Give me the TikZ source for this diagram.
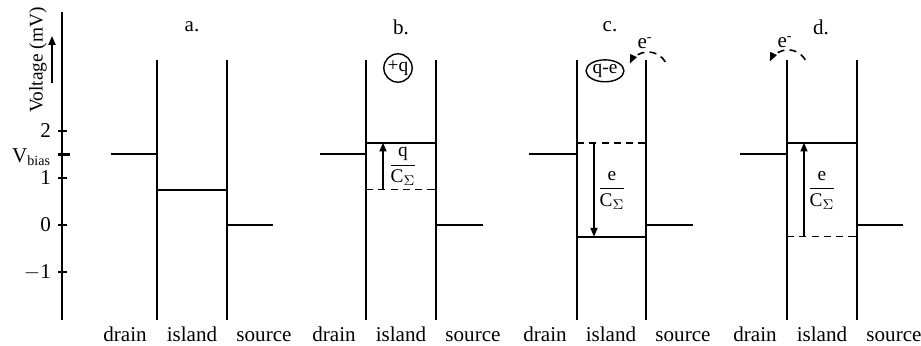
\documentclass[tikz,border=0pt]{standalone}
\usepackage{amsmath}
\usepackage{fontspec}
\setmainfont{Liberation Serif}
\usetikzlibrary{arrows.meta, shapes.geometric}

\begin{document}
\begin{tikzpicture}[
    x=0.02cm, y=0.94cm,
    >={Triangle[length=5pt, width=4pt]},
    font=\fontsize{12}{14}\selectfont,
    barrier/.style={line width=0.9pt},
    level/.style={line width=1.1pt},
    oldlevel/.style={line width=0.9pt, dash pattern=on 4pt off 3pt},
    axtick/.style={line width=0.9pt},
    region/.style={text height=1.6ex, text depth=0.3ex},
    frac/.style={font=\fontsize{11}{12}\selectfont, inner sep=1pt},
    charge/.style={draw, line width=0.8pt, inner sep=0.6pt, font=\fontsize{11}{12}\selectfont},
    hop/.style={line width=0.9pt, dash pattern=on 4pt off 3pt, ->}
]
\useasboundingbox (0,-2.574) rectangle (921,4.787);

% voltage axis
\coordinate (ax0) at (62,-2.02);
\coordinate (ax1) at (62,4.53);
\draw[line width=0.9pt] (ax0) -- (ax1);
\draw[axtick] (58,2) -- (67,2);
\draw[axtick, line width=1.4pt] (58,1.5) -- (70,1.5);
\draw[axtick] (58,1) -- (67,1);
\draw[axtick] (58,0) -- (67,0);
\draw[axtick] (58,-1) -- (67,-1);
\node[anchor=east] (t2) at (57,2) {2};
\node[anchor=east] (t1) at (57,1) {1};
\node[anchor=east] (t0) at (57,0) {0};
\node[anchor=east] (tm1) at (57,-1) {$-$1};
\node[anchor=east, inner sep=1pt] (vbias) at (53,1.45) {V\textsubscript{bias}};
\node[rotate=90, font=\fontsize{11}{12}\selectfont] (vlab) at (38,3.51) {Voltage (mV)};
\coordinate (va0) at (52,3.02);
\coordinate (va1) at (52,4.02);
\draw[->, line width=0.9pt] (va0) -- (va1);

% panel a
\node (pa) at (192,4.21) {a.};
\draw[barrier] (157,-2.02) -- (157,3.51);
\draw[barrier] (227,-2.02) -- (227,3.51);
\draw[level] (111,1.5) -- (157,1.5);
\draw[level] (157,0.75) -- (227,0.75);
\draw[level] (227,0) -- (273,0);
\node[region] (da) at (125,-2.36) {drain};
\node[region] (ia) at (192,-2.36) {island};
\node[region] (sa) at (264,-2.36) {source};

% panel b
\node (pb) at (401,4.21) {b.};
\draw[barrier] (366,-2.02) -- (366,3.51);
\draw[barrier] (436,-2.02) -- (436,3.51);
\draw[level] (320,1.5) -- (366,1.5);
\draw[level] (366,1.75) -- (436,1.75);
\draw[oldlevel] (366,0.75) -- (436,0.75);
\draw[level] (436,0) -- (483,0);
\node[circle, charge] (qb) at (398,3.34) {+q};
\coordinate (b0) at (383,0.75);
\coordinate (b1) at (383,1.75);
\draw[->, line width=0.9pt] (b0) -- (b1);
\node[frac] (fb) at (403,1.24) {$\dfrac{\mathrm{q}}{\mathrm{C}_{\Sigma}}$};
\node[region] (db) at (334,-2.36) {drain};
\node[region] (ib) at (401,-2.36) {island};
\node[region] (sb) at (473,-2.36) {source};

% panel c
\node (pc) at (610,4.21) {c.};
\draw[barrier] (577,-2.02) -- (577,3.51);
\draw[barrier] (646,-2.02) -- (646,3.51);
\draw[level] (529,1.5) -- (577,1.5);
\draw[oldlevel] (577,1.75) -- (646,1.75);
\draw[level] (577,-0.25) -- (646,-0.25);
\draw[level] (646,0) -- (693,0);
\node[ellipse, charge] (qc) at (605,3.28) {q-e};
\coordinate (c0) at (594,1.75);
\coordinate (c1) at (594,-0.25);
\draw[->, line width=0.9pt] (c0) -- (c1);
\node[frac] (fc) at (612,0.74) {$\dfrac{\mathrm{e}}{\mathrm{C}_{\Sigma}}$};
\coordinate (cc) at (648,3.255);
\draw[hop] ([shift={(30:0.4cm)}]cc) arc[start angle=30, end angle=155, radius=0.4cm];
\node (ec) at (645,3.87) {e\textsuperscript{-}};
\node[region] (dc) at (545,-2.36) {drain};
\node[region] (ic) at (611,-2.36) {island};
\node[region] (sc) at (683,-2.36) {source};

% panel d
\node (pd) at (821,4.21) {d.};
\draw[barrier] (787,-2.02) -- (787,3.51);
\draw[barrier] (857,-2.02) -- (857,3.51);
\draw[level] (740,1.5) -- (787,1.5);
\draw[level] (787,1.75) -- (857,1.75);
\draw[oldlevel] (787,-0.25) -- (857,-0.25);
\draw[level] (857,0) -- (903,0);
\coordinate (d0) at (804,-0.25);
\coordinate (d1) at (804,1.75);
\draw[->, line width=0.9pt] (d0) -- (d1);
\node[frac] (fd) at (822,0.74) {$\dfrac{\mathrm{e}}{\mathrm{C}_{\Sigma}}$};
\coordinate (cd) at (788,3.30);
\draw[hop] ([shift={(30:0.4cm)}]cd) arc[start angle=30, end angle=155, radius=0.4cm];
\node (ed) at (785,3.89) {e\textsuperscript{-}};
\node[region] (dd) at (755,-2.36) {drain};
\node[region] (id) at (822,-2.36) {island};
\node[region] (sd) at (894,-2.36) {source};
\end{tikzpicture}
\end{document}
